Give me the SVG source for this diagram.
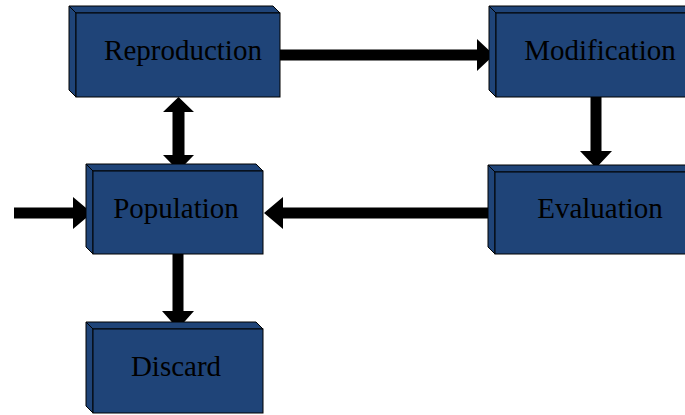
<svg xmlns="http://www.w3.org/2000/svg" width="685" height="415" viewBox="0 0 685 415">
<style>
.face{fill:#1F4478;stroke:#000;stroke-width:1}
.side{fill:#1F4478;stroke:#000;stroke-width:1}
.lbl{font-family:"Liberation Serif","Times New Roman",serif;font-size:29px;fill:#000;text-anchor:middle}
.arr{fill:#000}
</style>
<rect width="685" height="415" fill="#fff"/>
<g id="connectors">
  <!-- Reproduction -> Modification -->
  <polygon class="arr" points="280,49.5 477,49.5 477,39 494,55 477,71 477,60.5 280,60.5"/>
  <!-- Modification -> Evaluation -->
  <polygon class="arr" points="590.5,97 601.5,97 601.5,151 612,151 596,168 580,151 590.5,151"/>
  <!-- Evaluation -> Population -->
  <polygon class="arr" points="495,207.5 283,207.5 283,197 264,213 283,229 283,218.5 495,218.5"/>
  <!-- Reproduction <-> Population -->
  <polygon class="arr" points="178.5,97 194,112 184.5,112 184.5,155 194,155 178.5,171 163,155 172.5,155 172.5,112 163,112"/>
  <!-- input -> Population -->
  <polygon class="arr" points="14,207.5 73,207.5 73,197 92,213 73,229 73,218.5 14,218.5"/>
  <!-- Population -> Discard -->
  <polygon class="arr" points="172.5,254 183.5,254 183.5,311 194,311 178,329 162,311 172.5,311"/>
</g>
<g id="reproduction">
  <polygon class="side" points="76,13 69,6 273,6 280,13"/>
  <polygon class="side" points="76,13 69,6 69,90 76,97"/>
  <rect class="face" x="76" y="13" width="204" height="84"/>
  <text class="lbl" x="183" y="60">Reproduction</text>
</g>
<g id="modification">
  <polygon class="side" points="496,13 489,6 693,6 700,13"/>
  <polygon class="side" points="496,13 489,6 489,90 496,97"/>
  <rect class="face" x="496" y="13" width="204" height="84"/>
  <text class="lbl" x="600" y="60">Modification</text>
</g>
<g id="population">
  <polygon class="side" points="93,171 86,164 256,164 263,171"/>
  <polygon class="side" points="93,171 86,164 86,247 93,254"/>
  <rect class="face" x="93" y="171" width="170" height="83"/>
  <text class="lbl" x="176" y="218">Population</text>
</g>
<g id="evaluation">
  <polygon class="side" points="495,172 488,165 693,165 700,172"/>
  <polygon class="side" points="495,172 488,165 488,247 495,254"/>
  <rect class="face" x="495" y="172" width="205" height="82"/>
  <text class="lbl" x="600" y="218">Evaluation</text>
</g>
<g id="discard">
  <polygon class="side" points="93,329 86,322 256,322 263,329"/>
  <polygon class="side" points="93,329 86,322 86,406 93,413"/>
  <rect class="face" x="93" y="329" width="170" height="84"/>
  <text class="lbl" x="176" y="376">Discard</text>
</g>
</svg>
